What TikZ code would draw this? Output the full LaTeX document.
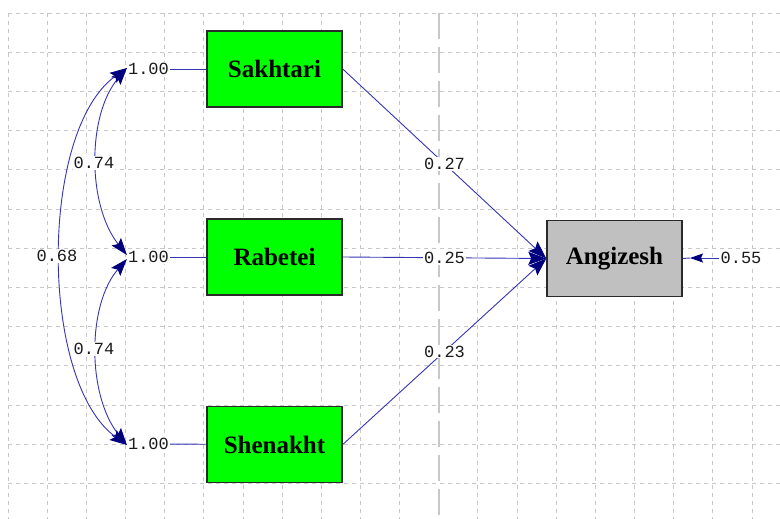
\documentclass[tikz,border=0pt]{standalone}
\usepackage{fontspec}
\setmainfont{Liberation Serif}
\newfontfamily\monofont{Liberation Mono}
\usetikzlibrary{arrows.meta}
\pgfdeclarelayer{bg}
\pgfsetlayers{bg,main}

\definecolor{boxgreen}{HTML}{00FF00}
\definecolor{boxgray}{HTML}{C0C0C0}
\definecolor{boxedge}{HTML}{2A2A2A}
\definecolor{pathblue}{HTML}{3434B4}
\definecolor{headblue}{HTML}{00007F}
\definecolor{gridgray}{HTML}{C8C8C8}
\definecolor{numink}{HTML}{1A1A1A}

\tikzset{
  gridline/.style={gridgray, line width=0.9pt, dash pattern=on 4pt off 4pt},
  midline/.style={gridgray, line width=1.8pt, dash pattern=on 26pt off 8pt},
  varbox/.style={draw=boxedge, line width=1.5pt, fill=boxgreen,
    minimum width=135pt, minimum height=76pt, inner sep=0pt,
    font=\fontsize{25}{25}\selectfont\bfseries},
  latbox/.style={varbox, fill=boxgray},
  num/.style={font=\monofont\fontsize{17}{17}\selectfont, text=numink,
    inner sep=1pt, fill=white},
  link/.style={draw=pathblue, line width=0.9pt},
  bighead/.style={Stealth[length=18pt, width=13pt, inset=3pt, color=headblue]},
  arr/.style={link, -{Stealth[length=18pt, width=13pt, inset=3pt, color=headblue]}},
  cov/.style={link, {Stealth[length=17pt, width=12pt, inset=3pt, color=headblue]}-{Stealth[length=17pt, width=12pt, inset=3pt, color=headblue]}},
  errarr/.style={link, -{Stealth[length=13pt, width=9pt, inset=2pt, color=headblue]}},
}

\begin{document}
\begin{tikzpicture}[x=1pt, y=-1pt]
\useasboundingbox (0,0) rectangle (780,519);

% observed variables
\node[varbox] (sak) at (274.5,69) {Sakhtari};
\node[varbox] (rab) at (274.5,257) {Rabetei};
\node[varbox] (she) at (274.5,444.5) {Shenakht};
% latent variable
\node[latbox] (ang) at (614.5,258.5) {Angizesh};

% variances
\node[num] (s1) at (148.5,69) {1.00};
\node[num] (r1) at (148.5,257) {1.00};
\node[num] (h1) at (148.5,444) {1.00};

% covariance labels
\node[num] (c1) at (94,163) {0.74};
\node[num] (c2) at (57,256) {0.68};
\node[num] (c3) at (94,349) {0.74};

% error term
\node[num] (e1) at (741,258) {0.55};
\coordinate (etip) at (690,258);

\begin{pgfonlayer}{bg}
  % dashed grid
  \foreach \i in {0,...,10,12,13,...,19}
    \draw[gridline] ({8+39.16*\i},13) -- ({8+39.16*\i},519);
  \foreach \j in {0,...,12}
    \draw[gridline] (8,{13+39.2*\j}) -- (780,{13+39.2*\j});
  \draw[midline] (438.8,13) -- (438.8,519);

  % variance links
  \draw[link] (s1) -- (sak);
  \draw[link] (r1) -- (rab);
  \draw[link] (h1) -- (she);

  % covariances
  \draw[cov] ([yshift=1pt]s1.west) .. controls (87,115) and (87,205) .. ([yshift=2pt]r1.west);
  \draw[cov] ([yshift=-2pt]r1.west) .. controls (87,305) and (87,395) .. ([yshift=-1pt]h1.west);
  \draw[cov] ([yshift=1pt]s1.west) .. controls (39,130) and (39,382) .. ([yshift=-1pt]h1.west);

  % structural paths
  \draw[arr] (sak.east) -- (ang.west) node[num, pos=0.5] (p1) {0.27};
  \draw[arr] (rab.east) -- (ang.west) node[num, pos=0.5] (p2) {0.25};
  \draw[arr] (she.east) -- (ang.west) node[num, pos=0.5] (p3) {0.23};

  % error arrow
  \draw[errarr] (e1.west) -- (etip);
  \draw[link] (etip) -- (ang.east);
\end{pgfonlayer}
\end{tikzpicture}
\end{document}
